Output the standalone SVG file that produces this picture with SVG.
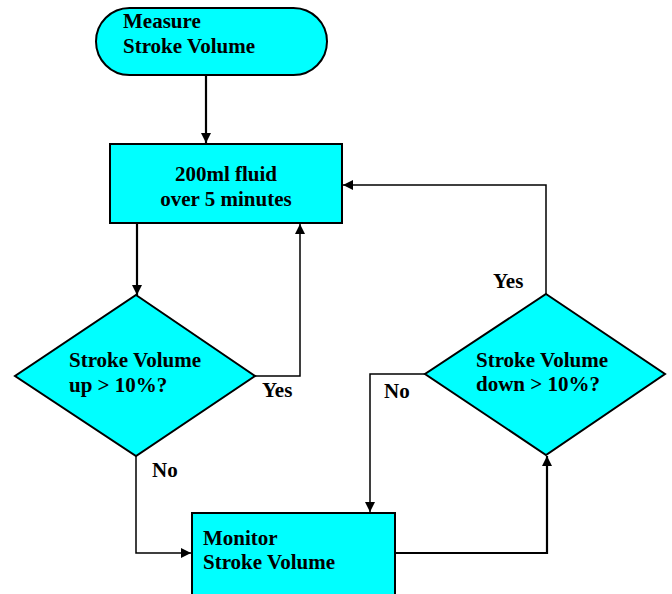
<svg xmlns="http://www.w3.org/2000/svg" width="672" height="594" viewBox="0 0 672 594">
<style>
.shape{fill:#00FFFF;stroke:#000;stroke-width:2}
.t{font-family:"Liberation Serif","Times New Roman",serif;font-weight:bold;font-size:21px;fill:#000}
.c{fill:none;stroke:#000;stroke-width:1.5}
.ck{fill:none;stroke:#000;stroke-width:2.2}
</style>
<defs>
<marker id="ah" viewBox="0 0 10 10" refX="10" refY="5" markerWidth="10" markerHeight="10" markerUnits="userSpaceOnUse" orient="auto">
<path d="M0,0 L10,5 L0,10 z" fill="#000"/>
</marker>
</defs>
<rect width="672" height="594" fill="#fff"/>
<g id="connectors">
<path class="ck" d="M206,75 V143" marker-end="url(#ah)"/>
<path class="ck" d="M137,223 V295" marker-end="url(#ah)"/>
<path class="c" d="M255,376 H300 V224" marker-end="url(#ah)"/>
<path class="c" d="M136,456 V553 H191" marker-end="url(#ah)"/>
<path class="ck" d="M395,553 H547 V456" marker-end="url(#ah)"/>
<path class="c" d="M546,294 V185 H343" marker-end="url(#ah)"/>
<path class="c" d="M425,374 H370 V512" marker-end="url(#ah)"/>
<text class="t" x="262" y="397">Yes</text>
<text class="t" x="152" y="477">No</text>
<text class="t" x="493" y="288">Yes</text>
<text class="t" x="384" y="398">No</text>
</g>
<g id="start">
<rect class="shape" x="96" y="8" width="231" height="67" rx="33.5" ry="33.5"/>
<text class="t" x="123" y="28">Measure</text>
<text class="t" x="123" y="53">Stroke Volume</text>
</g>
<g id="fluid">
<rect class="shape" x="110" y="144" width="232" height="79"/>
<text class="t" x="226" y="181" text-anchor="middle">200ml fluid</text>
<text class="t" x="226" y="206" text-anchor="middle">over 5 minutes</text>
</g>
<g id="up">
<polygon class="shape" points="136,295 255,376 136,456 15,376"/>
<text class="t" x="69" y="367">Stroke Volume</text>
<text class="t" x="69" y="392">up &gt; 10%?</text>
</g>
<g id="down">
<polygon class="shape" points="546,294 665,374 546,455 425,374"/>
<text class="t" x="476" y="367">Stroke Volume</text>
<text class="t" x="476" y="391">down &gt; 10%?</text>
</g>
<g id="monitor">
<rect class="shape" x="192" y="513" width="203" height="100"/>
<text class="t" x="203" y="545">Monitor</text>
<text class="t" x="203" y="569">Stroke Volume</text>
</g>
</svg>
